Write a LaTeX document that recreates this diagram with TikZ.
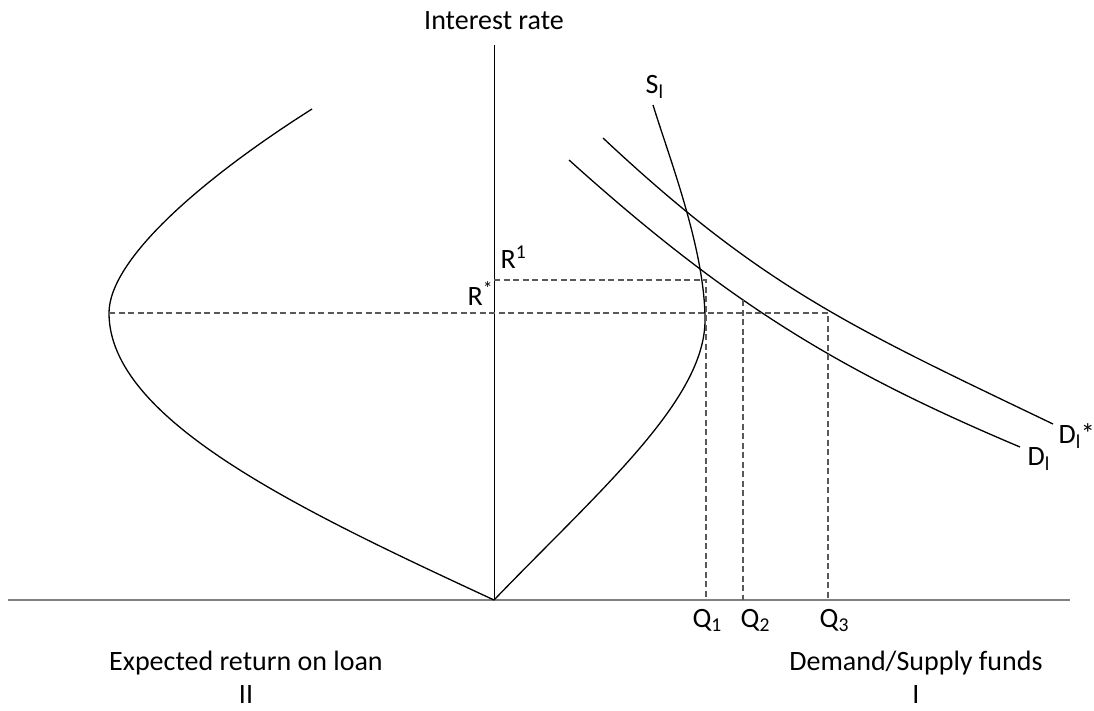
\documentclass[tikz,border=0pt]{standalone}
\usepackage{fontspec}
\setmainfont{Carlito}

\tikzset{
  lbl/.style={inner sep=0pt,font=\fontsize{28}{33}\selectfont},
  guide/.style={black!65,line width=1.2pt,dash pattern=on 6pt off 3.5pt}
}

\begin{document}
\begin{tikzpicture}[x=1pt,y=-1pt,line width=1.3pt]
  \useasboundingbox (0,0) rectangle (1094,710);
  \coordinate (O) at (494,600);
  \coordinate (top) at (494,45);
  \coordinate (R1) at (494,280);
  \coordinate (E1) at (706,280);
  \coordinate (Rs) at (109,313);
  \coordinate (E3) at (828,313);
  \coordinate (E2) at (743,300);
  % axes
  \draw[black!50,line width=1.8pt] (8,600) -- (1070,600);
  \draw[line width=1pt] (top) -- (O);
  % expected return (II)
  \draw (O) .. controls (300,510) and (109,420) .. (Rs) .. controls (109,260) and (200,180) .. (312,109);
  % supply
  \draw (O) .. controls (600,490) and (705,400) .. (705,320) .. controls (705,250) and (670,160) .. (653,105);
  % demand
  \draw (569,160) .. controls (729,304) and (840,371) .. (1020,447);
  \draw (603,138) .. controls (763,288) and (853,328) .. (1053,424);
  % guides
  \draw[guide] (R1) -- (E1) -- (E1 |- O);
  \draw[guide] (Rs) -- (E3) -- (E3 |- O);
  \draw[guide] (E2) -- (E2 |- O);
  % labels
  \node[lbl,anchor=base] (ir) at (494,29) {Interest rate};
  \node[lbl,anchor=base west] (sl) at (645,93) {S\textsubscript{l}};
  \node[lbl,anchor=base west] (r1) at (500,268) {R\textsuperscript{1}};
  \node[lbl,anchor=base west] (rs) at (467,305) {R\textsuperscript{*}};
  \node[lbl,anchor=base west] (dls) at (1058,443) {D\textsubscript{l}*};
  \node[lbl,anchor=base west] (dl) at (1027,465) {D\textsubscript{l}};
  \node[lbl,anchor=base west] (q1) at (692,627) {Q\textsubscript{1}};
  \node[lbl,anchor=base west] (q2) at (740,627) {Q\textsubscript{2}};
  \node[lbl,anchor=base west] (q3) at (819,627) {Q\textsubscript{3}};
  \node[lbl,anchor=base] (ex) at (246,670) {Expected return on loan};
  \node[lbl,anchor=base] (ii) at (246,703) {II};
  \node[lbl,anchor=base] (ds) at (916,670) {Demand/Supply funds};
  \node[lbl,anchor=base] (i) at (916,703) {I};
\end{tikzpicture}
\end{document}
